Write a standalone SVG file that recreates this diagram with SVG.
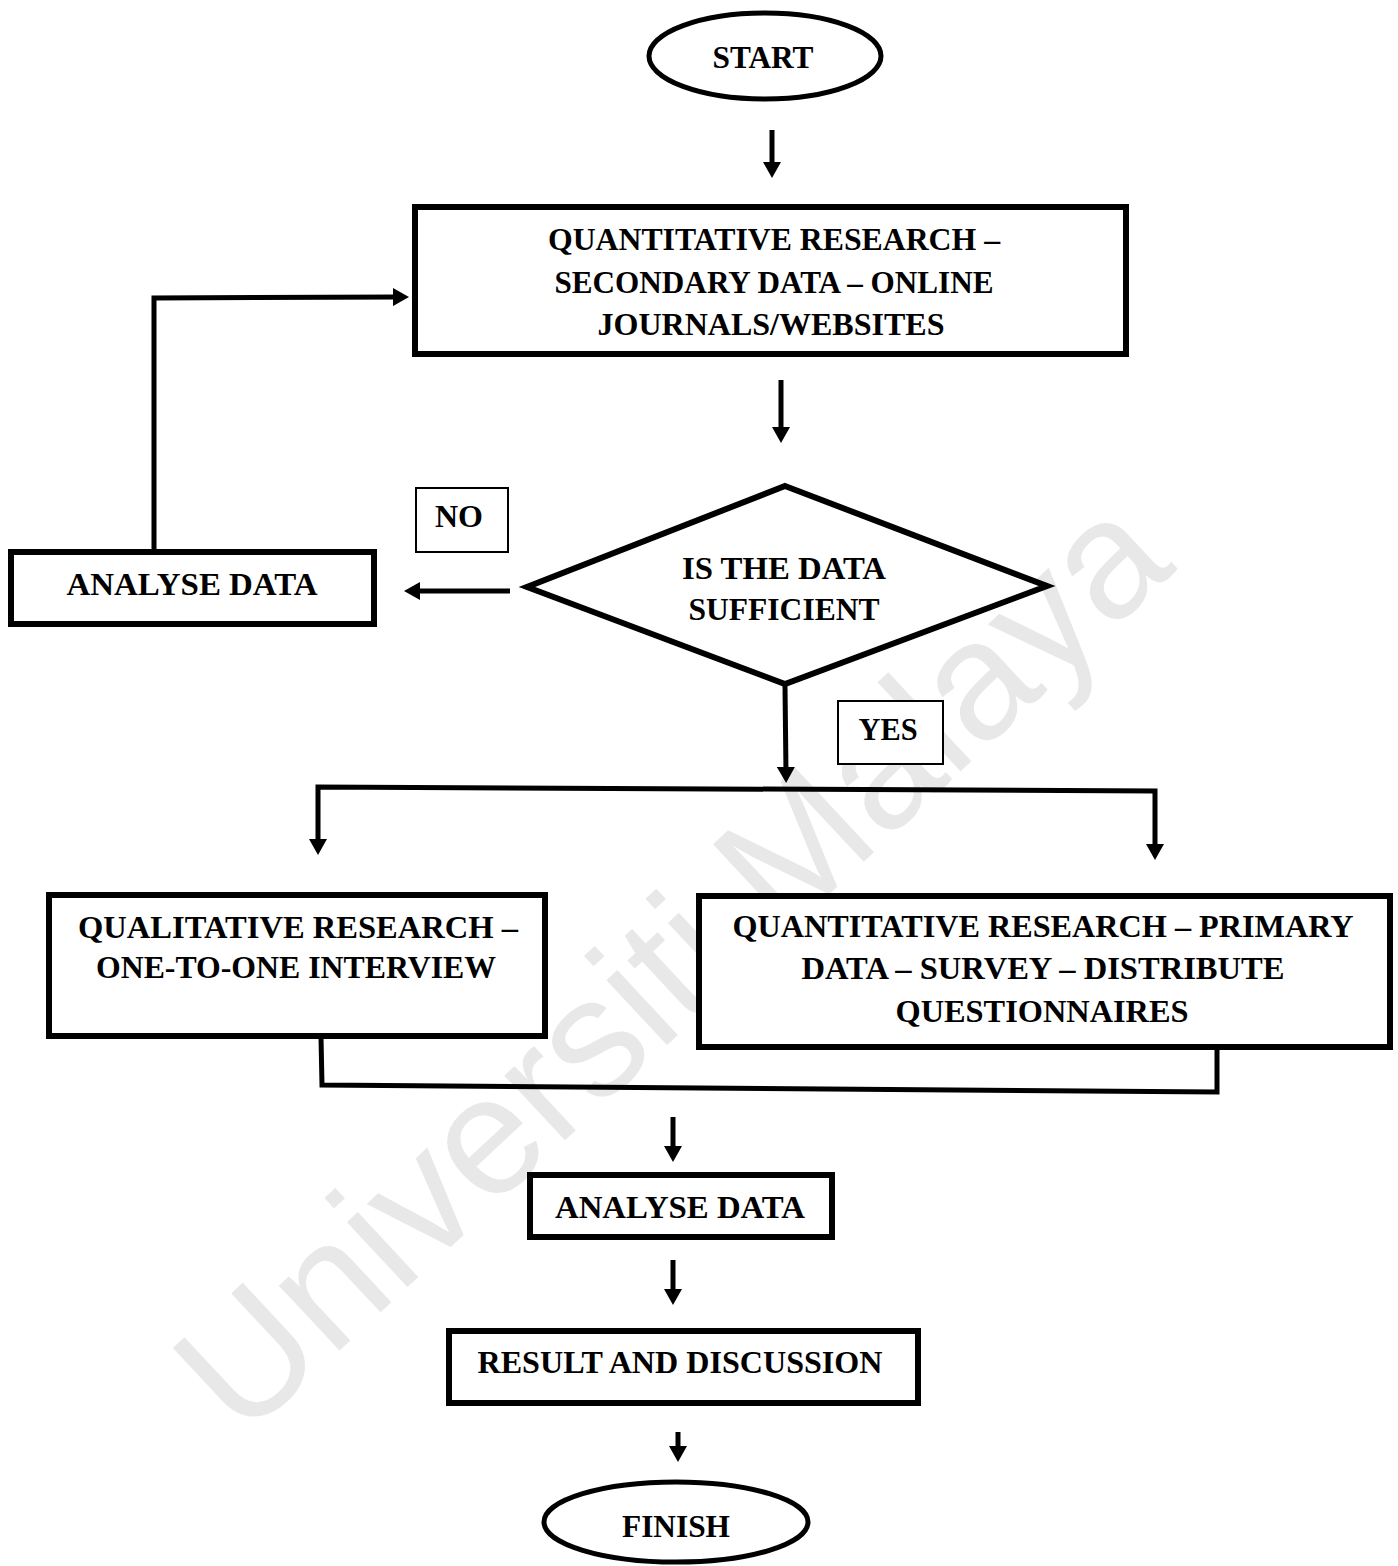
<svg xmlns="http://www.w3.org/2000/svg" width="1398" height="1566" viewBox="0 0 1398 1566">
<style>
  .bg { fill: #ffffff; }
  .wm { fill: #e8e8e8; font-family: "Liberation Sans", Arial, sans-serif; font-size: 168px; }
  .box { fill: #ffffff; stroke: #000000; stroke-width: 6; }
  .tag { fill: #ffffff; stroke: #000000; stroke-width: 2; }
  .shape { fill: #ffffff; stroke: #000000; stroke-width: 5; }
  .dia { fill: #ffffff; stroke: #000000; stroke-width: 6; stroke-linejoin: miter; }
  .t { font-family: "Liberation Serif", "Times New Roman", serif; font-weight: bold; font-size: 32px; fill: #000000; text-anchor: middle; }
  .conn { fill: none; stroke: #000000; stroke-width: 5; stroke-linejoin: miter; }
</style>
<defs>
  <marker id="ah" viewBox="0 0 16 18" refX="6" refY="9" markerWidth="16" markerHeight="18" markerUnits="userSpaceOnUse" orient="auto-start-reverse">
    <path d="M0,0 L16,9 L0,18 Z" fill="#000000"/>
  </marker>
</defs>
<rect class="bg" x="0" y="0" width="1398" height="1566"/>

<text class="wm" x="710" y="1005" text-anchor="middle" transform="rotate(-43 710 1005)">Universiti Malaya</text>

<g id="connectors">
  <path class="conn" d="M772,130 L772,168" marker-end="url(#ah)"/>
  <path class="conn" d="M781,380 L781,433" marker-end="url(#ah)"/>
  <path class="conn" d="M154,550 L154,298 L399,297" marker-end="url(#ah)"/>
  <path class="conn" d="M510,591 L414,591" marker-end="url(#ah)"/>
  <path class="conn" d="M785,686 L786,773" marker-end="url(#ah)"/>
  <path class="conn" d="M318,845 L318,787 L1155,791 L1155,850" marker-start="url(#ah)" marker-end="url(#ah)"/>
  <path class="conn" d="M321,1037 L322,1085 L1217,1092 L1217,1050"/>
  <path class="conn" d="M673,1117 L673,1152" marker-end="url(#ah)"/>
  <path class="conn" d="M673,1260 L673,1295" marker-end="url(#ah)"/>
  <path class="conn" d="M678,1432 L678,1452" marker-end="url(#ah)"/>
</g>

<g id="start">
  <ellipse class="shape" cx="765" cy="56" rx="116" ry="43"/>
  <text class="t" x="763" y="68" textLength="101" lengthAdjust="spacingAndGlyphs">START</text>
</g>

<g id="secondary">
  <rect class="box" x="415" y="207" width="711" height="147"/>
  <text class="t" x="774" y="250" textLength="452" lengthAdjust="spacingAndGlyphs">QUANTITATIVE RESEARCH –</text>
  <text class="t" x="774" y="293" textLength="439" lengthAdjust="spacingAndGlyphs">SECONDARY DATA – ONLINE</text>
  <text class="t" x="771" y="335" textLength="347" lengthAdjust="spacingAndGlyphs">JOURNALS/WEBSITES</text>
</g>

<g id="no-label">
  <rect class="tag" x="416" y="488" width="92" height="64"/>
  <text class="t" x="459" y="527" textLength="48" lengthAdjust="spacingAndGlyphs">NO</text>
</g>

<g id="analyse-left">
  <rect class="box" x="11" y="552" width="363" height="72"/>
  <text class="t" x="192" y="595" textLength="251" lengthAdjust="spacingAndGlyphs">ANALYSE DATA</text>
</g>

<g id="decision">
  <polygon class="dia" points="785,486 1047,586 785,684 527,587"/>
  <text class="t" x="784" y="579" textLength="204" lengthAdjust="spacingAndGlyphs">IS THE DATA</text>
  <text class="t" x="784" y="620" textLength="191" lengthAdjust="spacingAndGlyphs">SUFFICIENT</text>
</g>

<g id="yes-label">
  <rect class="tag" x="838" y="701" width="105" height="63"/>
  <text class="t" x="888" y="740" textLength="59" lengthAdjust="spacingAndGlyphs">YES</text>
</g>

<g id="qualitative">
  <rect class="box" x="49" y="895" width="496" height="141"/>
  <text class="t" x="298" y="938" textLength="440" lengthAdjust="spacingAndGlyphs">QUALITATIVE RESEARCH –</text>
  <text class="t" x="296" y="978" textLength="400" lengthAdjust="spacingAndGlyphs">ONE-TO-ONE INTERVIEW</text>
</g>

<g id="primary">
  <rect class="box" x="699" y="896" width="691" height="151"/>
  <text class="t" x="1043" y="937" textLength="621" lengthAdjust="spacingAndGlyphs">QUANTITATIVE RESEARCH – PRIMARY</text>
  <text class="t" x="1043" y="979" textLength="483" lengthAdjust="spacingAndGlyphs">DATA – SURVEY – DISTRIBUTE</text>
  <text class="t" x="1042" y="1022" textLength="293" lengthAdjust="spacingAndGlyphs">QUESTIONNAIRES</text>
</g>

<g id="analyse-bottom">
  <rect class="box" x="530" y="1175" width="302" height="62"/>
  <text class="t" x="680" y="1218" textLength="250" lengthAdjust="spacingAndGlyphs">ANALYSE DATA</text>
</g>

<g id="result">
  <rect class="box" x="449" y="1331" width="469" height="72"/>
  <text class="t" x="680" y="1373" textLength="405" lengthAdjust="spacingAndGlyphs">RESULT AND DISCUSSION</text>
</g>

<g id="finish">
  <ellipse class="shape" cx="676" cy="1522" rx="132" ry="40"/>
  <text class="t" x="676" y="1537" textLength="108" lengthAdjust="spacingAndGlyphs">FINISH</text>
</g>
</svg>
